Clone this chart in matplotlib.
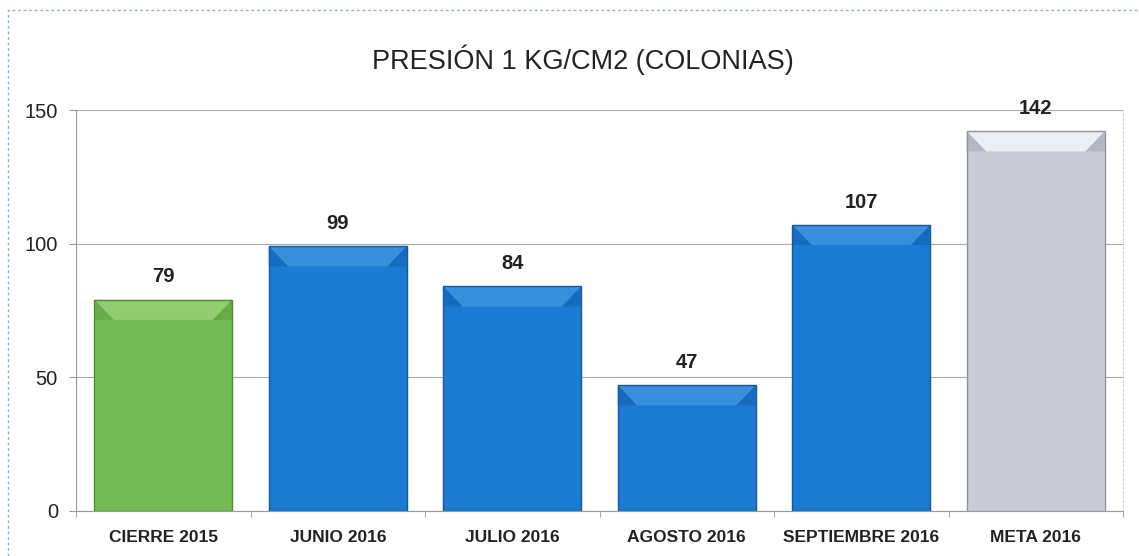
import numpy as np
import matplotlib.pyplot as plt
from matplotlib.patches import Polygon, Rectangle
from matplotlib.lines import Line2D

# data
categories = ['CIERRE 2015', 'JUNIO 2016', 'JULIO 2016', 'AGOSTO 2016',
              'SEPTIEMBRE 2016', 'META 2016']
values = [79, 99, 84, 47, 107, 142]
bar_colors = ['#72bb55', '#1b7bd2', '#1b7bd2', '#1b7bd2', '#1b7bd2', '#c9cbd6']
top_colors = ['#92cc72', '#3a8fdd', '#3a8fdd', '#3a8fdd', '#3a8fdd', '#eceef3']
side_colors = ['#66ad4a', '#176cc0', '#176cc0', '#176cc0', '#176cc0', '#b4b6c2']
edge_colors = ['#4f8c3a', '#135a9f', '#135a9f', '#135a9f', '#135a9f', '#8e909c']

fig = plt.figure(figsize=(11.39, 5.56), dpi=100)
ax = fig.add_axes([76 / 1139, 45 / 556, 1047 / 1139, 401 / 556])

x = np.arange(len(categories))
w = 0.79
bev_x = 0.11   # bevel width in category units
bev_y = 7.5    # bevel height in value units

for xi, v, c, tc, sc, ec in zip(x, values, bar_colors, top_colors, side_colors, edge_colors):
    l, r = xi - w / 2, xi + w / 2
    ax.add_patch(Rectangle((l, 0), w, v, facecolor=c, edgecolor='none', zorder=3))
    # top bevel
    ax.add_patch(Polygon([(l, v), (r, v), (r - bev_x, v - bev_y), (l + bev_x, v - bev_y)],
                         closed=True, facecolor=tc, edgecolor='none', zorder=4))
    # side bevels
    ax.add_patch(Polygon([(l, v), (l + bev_x, v - bev_y), (l, v - bev_y)],
                         closed=True, facecolor=sc, edgecolor='none', zorder=4))
    ax.add_patch(Polygon([(r, v), (r - bev_x, v - bev_y), (r, v - bev_y)],
                         closed=True, facecolor=sc, edgecolor='none', zorder=4))
    ax.add_patch(Rectangle((l, 0), w, v, facecolor='none', edgecolor=ec, lw=1.0, zorder=5))
    ax.text(xi, v + 5, str(v), ha='center', va='bottom', fontsize=14.5,
            fontweight='bold', color='#222222', family='Liberation Sans', zorder=6)

ax.set_xlim(-0.5, len(categories) - 0.5)
ax.set_ylim(0, 150)
ax.set_yticks([0, 50, 100, 150])
ax.set_xticks(x)
ax.set_xticklabels(categories, fontsize=12.5, fontweight='bold', color='#222222',
                   family='Liberation Sans')
for lbl in ax.get_yticklabels():
    lbl.set_fontsize(14.5)
    lbl.set_family('Liberation Sans')
    lbl.set_color('#222222')
ax.set_xticks(np.arange(len(categories) + 1) - 0.5, minor=True)
ax.tick_params(axis='x', which='major', length=0, pad=14)
ax.tick_params(axis='x', which='minor', length=4, color='#999999')
ax.tick_params(axis='y', length=5, color='#999999', pad=8)
ax.grid(axis='y', color='#aaaaaa', lw=0.8, zorder=0)
ax.spines['top'].set_visible(False)
ax.spines['right'].set_color('#c8d4e0')
ax.spines['right'].set_linestyle((0, (2, 2)))
ax.spines['left'].set_color('#999999')
ax.spines['bottom'].set_color('#999999')

fig.text(583 / 1139, 1 - 60 / 556, 'PRESIÓN 1 KG/CM2 (COLONIAS)', ha='center', va='center',
         fontsize=19.5, color='#222222', family='Liberation Sans')

# outer dotted frame (left and top edges visible)
fx, fy = 8 / 1139, 1 - 10 / 556
fig.add_artist(Line2D([fx, fx, 1], [0, fy, fy], transform=fig.transFigure,
                      color='#7fb3e0', lw=1.0, ls=(0, (2, 2))))

fig.savefig('out.png', dpi=100)
